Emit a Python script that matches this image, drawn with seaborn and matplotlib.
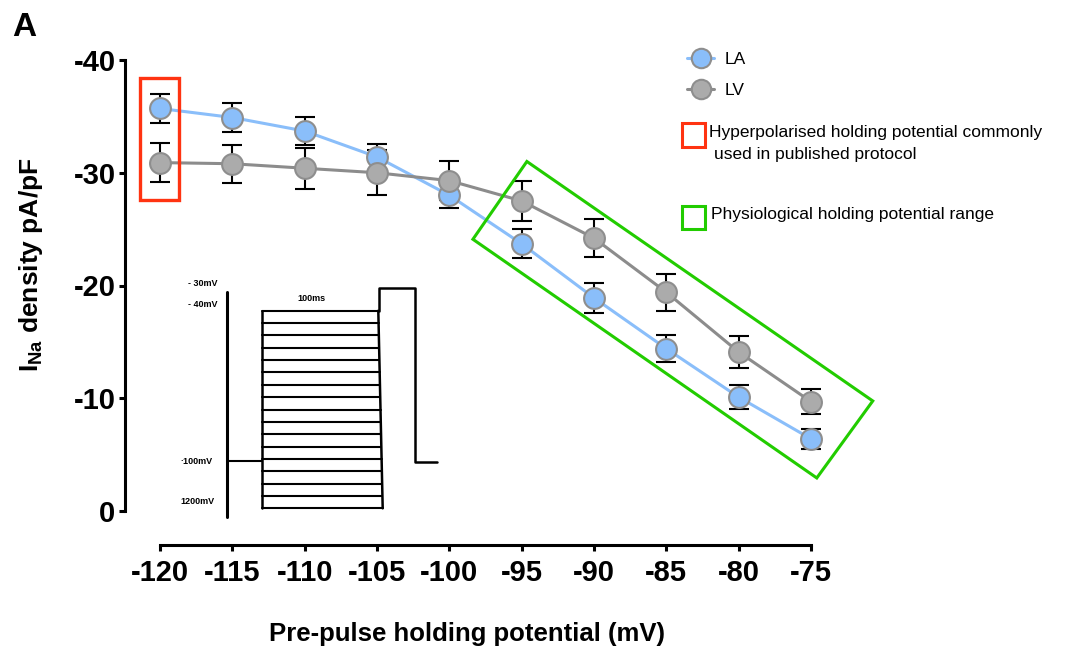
#!/usr/bin/env python3
"""
Na current density vs pre-pulse holding potential, LA vs LV.
"""

import matplotlib

matplotlib.use("Agg")

import matplotlib.pyplot as plt
import numpy as np
import pandas as pd
import seaborn as sns  # type: ignore
from matplotlib.lines import Line2D
from matplotlib.patches import Polygon, Rectangle

# data
potentials = [-120, -115, -110, -105, -100, -95, -90, -85, -80, -75]
la_mean = [-35.7, -34.9, -33.7, -31.4, -28.0, -23.7, -18.9, -14.4, -10.1, -6.4]
la_sem = [1.3, 1.3, 1.25, 1.15, 1.1, 1.3, 1.3, 1.2, 1.05, 0.9]
lv_mean = [-30.9, -30.8, -30.4, -30.0, -29.3, -27.5, -24.2, -19.4, -14.1, -9.7]
lv_sem = [1.7, 1.7, 1.8, 2.0, 1.7, 1.8, 1.7, 1.65, 1.4, 1.1]
y_ticks = [0, -10, -20, -30, -40]

# protocol inset: number of pre-pulse steps
n_steps = 17

colors = {"LA": "#8ABEFA", "LV": "#ABABAB"}
line_colors = {"LA": "#8ABEFA", "LV": "#8C8C8C"}
edge = "#8E8E8E"

sns.set_style("ticks")
plt.rcParams["font.family"] = ["Liberation Sans", "DejaVu Sans"]
plt.rcParams["mathtext.fontset"] = "custom"
plt.rcParams["mathtext.rm"] = "Liberation Sans"
plt.rcParams["mathtext.bf"] = "Liberation Sans:bold"
for key in ["text.color", "axes.labelcolor", "xtick.color", "ytick.color",
            "axes.edgecolor"]:
    plt.rcParams[key] = "black"

df = pd.concat(
    [
        pd.DataFrame({"potential": potentials, "density": la_mean, "chamber": "LA"}),
        pd.DataFrame({"potential": potentials, "density": lv_mean, "chamber": "LV"}),
    ]
)

fig = plt.figure(figsize=(10.81, 6.5), dpi=100)
W, H = 1081, 650
ax = fig.add_axes([160 / W, 1 - 511 / H, 651 / W, 451 / H])

# error bars first so markers sit on top
for mean, sem in [(la_mean, la_sem), (lv_mean, lv_sem)]:
    eb = ax.errorbar(
        potentials, mean, yerr=sem, fmt="none", ecolor="black",
        elinewidth=1.5, capsize=7.5, capthick=1.5, zorder=2,
    )
    for art in eb.lines[1] + eb.lines[2]:
        art.set_clip_on(False)

sns.lineplot(
    data=df, x="potential", y="density", hue="chamber", palette=line_colors,
    marker="o", markersize=15, markeredgecolor=edge, markeredgewidth=1.5,
    linewidth=2.2, legend=False, ax=ax, zorder=3,
)
for ln, name in zip(ax.lines[-2:], ["LA", "LV"]):
    ln.set_markerfacecolor(colors[name])
    ln.set_clip_on(False)

ax.set_xlim(-120, -75)
ax.set_ylim(0, -40)
sns.despine(ax=ax)
ax.spines["left"].set_position(("outward", 25))
ax.spines["bottom"].set_position(("outward", 24.5))
for s in ["left", "bottom"]:
    ax.spines[s].set_linewidth(2.2)

# tick labels after spine moves (set_position resets the ticks)
ax.set_xticks(potentials)
ax.set_yticks(y_ticks)
ax.set_xticklabels([str(p) for p in potentials], fontsize=21, fontweight="bold")
ax.set_yticklabels([str(t) for t in y_ticks], fontsize=21, fontweight="bold")
ax.tick_params(axis="both", width=2.2, length=4, color="black", labelcolor="black")
ax.tick_params(axis="x", pad=6)
ax.tick_params(axis="y", pad=3)

ax.set_xlabel("Pre-pulse holding potential (mV)", fontsize=18.5, fontweight="bold")
ax.set_ylabel(r"$\mathbf{I_{Na}}$ density pA/pF", fontsize=19, fontweight="bold")
ax.xaxis.set_label_coords(0.472, -0.246)
ax.yaxis.set_label_coords(-0.176, 0.545)

# highlight boxes
ax.add_patch(Rectangle((-121.4, -38.4), 2.7, 10.8, fill=False,
                       edgecolor="#FF3311", linewidth=2.4, clip_on=False, zorder=4))
green = [(-98.37, -24.1), (-94.64, -31.0), (-70.73, -9.76), (-74.6, -2.93)]
ax.add_patch(Polygon(green, closed=True, fill=False, edgecolor="#22CC00",
                     linewidth=2.2, clip_on=False, zorder=4))

# legend
handles = [
    Line2D([], [], color=line_colors[n], lw=2.2, marker="o", markersize=14,
           markerfacecolor=colors[n], markeredgecolor=edge, markeredgewidth=1.5)
    for n in ["LA", "LV"]
]
fig.legend(handles, ["LA", "LV"], loc="upper left",
           bbox_to_anchor=(671 / W, 1 - 36 / H), frameon=False, fontsize=12.5,
           handlelength=1.6, handletextpad=0.6, labelspacing=0.95)

fig.patches.append(Rectangle((682 / W, 1 - 147 / H), 23 / W, 24 / H, fill=False,
                             edgecolor="#FF3311", linewidth=2.2,
                             transform=fig.transFigure, figure=fig))
fig.patches.append(Rectangle((682 / W, 1 - 229 / H), 23 / W, 23 / H, fill=False,
                             edgecolor="#22CC00", linewidth=2.2,
                             transform=fig.transFigure, figure=fig))
fig.text(709 / W, 1 - 132 / H, "Hyperpolarised holding potential commonly",
         fontsize=12.5, va="center")
fig.text(714 / W, 1 - 155 / H, "used in published protocol", fontsize=12.5, va="center")
fig.text(711 / W, 1 - 214 / H, "Physiological holding potential range",
         fontsize=12.5, va="center")

fig.text(12 / W, 1 - 28 / H, "A", fontsize=24, fontweight="bold", va="center")

# voltage protocol inset, drawn in pixel-like units
ins = fig.add_axes([175 / W, 1 - 525 / H, 270 / W, 250 / H])
ins.set_xlim(175, 445)
ins.set_ylim(525, 275)
ins.axis("off")
top, bot = 310.7, 508.3
left, r_top, r_bot = 261.7, 378.3, 382.7
ins.plot([226.7, 226.7], [291.7, 516.7], color="black", lw=2.2)
ins.plot([226.7, left], [461, 461], color="black", lw=1.5)
for lvl in np.linspace(top, bot, n_steps):
    xr = r_top + (r_bot - r_top) * (lvl - top) / (bot - top)
    ins.plot([left, xr], [lvl, lvl], color="black", lw=1.5)
ins.plot([left, left], [top, bot], color="black", lw=1.8)
ins.plot([r_top, r_bot], [top, bot], color="black", lw=1.8)
ins.plot([379.3, 379.3, 415, 415, 436.7], [top, 288.3, 288.3, 461.7, 461.7],
         color="black", lw=1.8)
small = dict(fontsize=6.5, fontweight="bold", va="center", ha="left")
ins.text(188, 283, "- 30mV", **small)
ins.text(188, 304, "- 40mV", **small)
ins.text(297, 298, "100ms", **small)
ins.text(180, 461, "·100mV", **small)
ins.text(180, 502, "1200mV", **small)

fig.savefig("out.png", dpi=100)
